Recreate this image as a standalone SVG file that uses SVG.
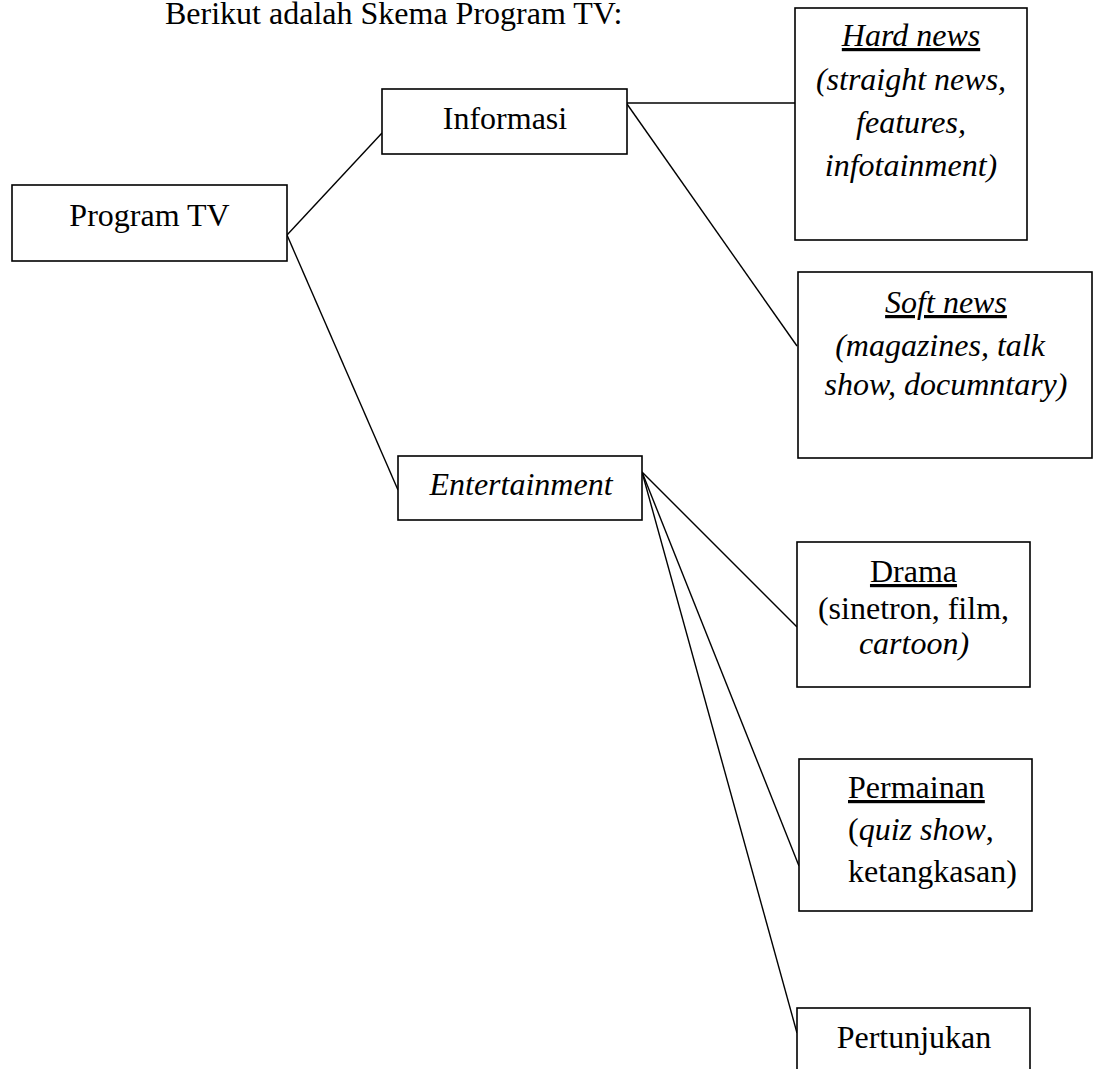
<svg xmlns="http://www.w3.org/2000/svg" width="1096" height="1069" viewBox="0 0 1096 1069">
<style>
  text { font-family: "Liberation Serif", "Times New Roman", serif; font-size: 32px; fill: #000; }
  .c { text-anchor: middle; }
  .i { font-style: italic; }
  .u { text-decoration: underline; }
  .box { fill: #fff; stroke: #000; stroke-width: 1.6; }
  .ln { fill: none; stroke: #000; stroke-width: 1.4; }
</style>
<rect width="1096" height="1069" fill="#fff"/>
<text id="title" x="165" y="24">Berikut adalah Skema Program TV:</text>
<g id="connectors">
  <line class="ln" x1="287" y1="235" x2="382" y2="133"/>
  <line class="ln" x1="287" y1="235" x2="398" y2="490"/>
  <line class="ln" x1="627" y1="103" x2="797" y2="103"/>
  <line class="ln" x1="627" y1="104" x2="797" y2="346"/>
  <line class="ln" x1="642" y1="472" x2="797" y2="627"/>
  <line class="ln" x1="642" y1="472" x2="799" y2="866"/>
  <line class="ln" x1="642" y1="472" x2="797" y2="1033"/>
</g>
<g id="program-tv">
  <rect class="box" x="12" y="185" width="275" height="76"/>
  <text class="c" x="149.5" y="226">Program TV</text>
</g>
<g id="informasi">
  <rect class="box" x="382" y="89" width="245" height="65"/>
  <text class="c" x="505" y="129">Informasi</text>
</g>
<g id="entertainment">
  <rect class="box" x="398" y="456" width="244" height="64"/>
  <text class="c i" x="521" y="495">Entertainment</text>
</g>
<g id="hard-news">
  <rect class="box" x="795" y="8" width="232" height="232"/>
  <text class="c i" x="911"><tspan class="u" x="911" y="46">Hard news</tspan><tspan x="911" y="90">(straight news,</tspan><tspan x="911" y="133">features,</tspan><tspan x="911" y="176">infotainment)</tspan></text>
</g>
<g id="soft-news">
  <rect class="box" x="798" y="272" width="294" height="186"/>
  <text class="c i" x="946"><tspan class="u" x="946" y="313">Soft news</tspan><tspan x="940" y="356">(magazines, talk</tspan><tspan x="946" y="395">show, documntary)</tspan></text>
</g>
<g id="drama">
  <rect class="box" x="797" y="542" width="233" height="145"/>
  <text class="c u" x="913.5" y="582">Drama</text>
  <text class="c" x="913.5" y="619">(sinetron, film,</text>
  <text class="c i" x="914" y="654">cartoon)</text>
</g>
<g id="permainan">
  <rect class="box" x="799" y="759" width="233" height="152"/>
  <text class="u" x="848" y="798">Permainan</text>
  <text x="848" y="840">(<tspan class="i">quiz show</tspan>,</text>
  <text x="848" y="882">ketangkasan)</text>
</g>
<g id="pertunjukan">
  <rect class="box" x="797" y="1008" width="233" height="80"/>
  <text class="c" x="914" y="1048">Pertunjukan</text>
</g>
</svg>
